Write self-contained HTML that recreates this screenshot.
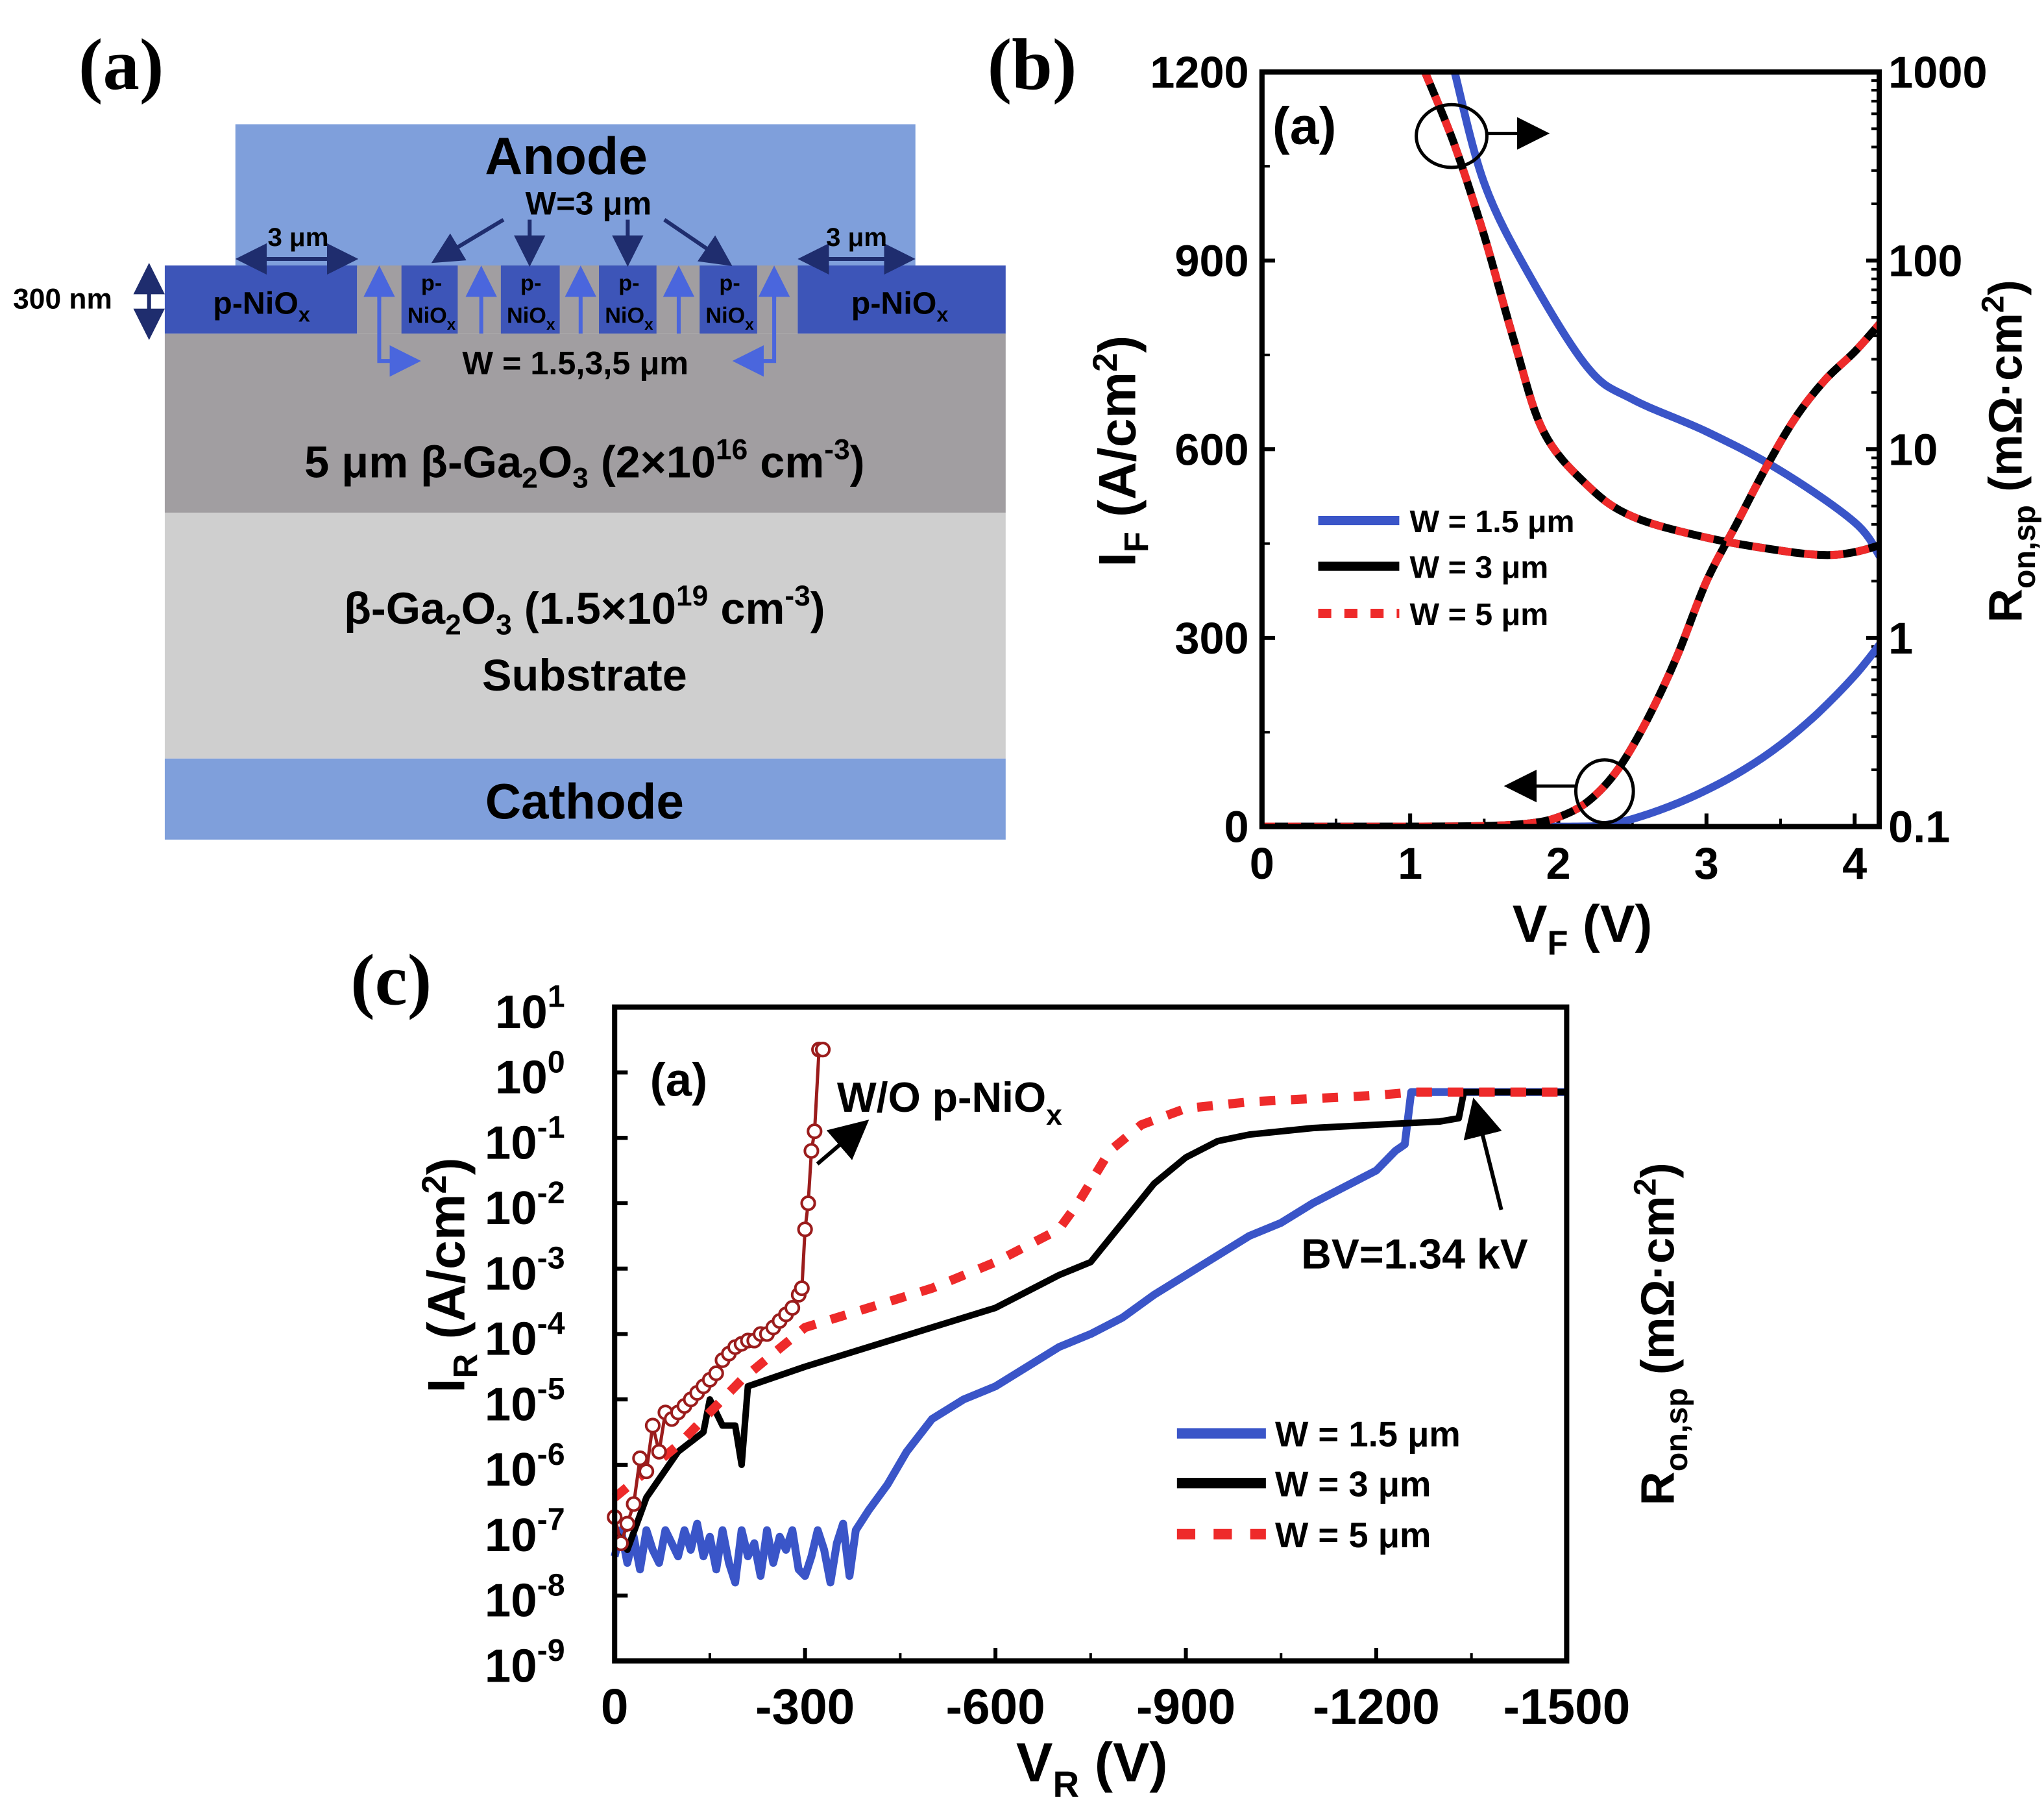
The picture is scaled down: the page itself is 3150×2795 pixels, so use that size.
<!DOCTYPE html>
<html><head><meta charset="utf-8"><style>
html,body{margin:0;padding:0;background:#fff}
svg{display:block;width:3150px;height:2795px}
text{font-family:"Liberation Sans",sans-serif;font-weight:bold}
</style></head><body>
<svg id="fig" viewBox="0 0 1563 1387" preserveAspectRatio="none" xmlns="http://www.w3.org/2000/svg">
<defs>
<marker id="ah" markerWidth="8" markerHeight="8" refX="6" refY="4" orient="auto"><path d="M0,0 L8,4 L0,8 z" fill="#1f2d6e"/></marker>
<marker id="ahb" markerWidth="8" markerHeight="8" refX="6" refY="4" orient="auto"><path d="M0,0 L8,4 L0,8 z" fill="#4a66dd"/></marker>
<marker id="ahk" markerWidth="10" markerHeight="10" refX="8" refY="5" orient="auto"><path d="M0,0 L10,5 L0,10 z" fill="#000"/></marker>
<clipPath id="cb"><rect x="965" y="55" width="472" height="577"/></clipPath>
</defs>
<g>
<text x="60" y="68" font-size="56" style="font-family:'Liberation Serif',serif">(a)</text>
<rect x="180" y="95" width="520" height="110" fill="#7f9fdb"/>
<rect x="126" y="255" width="643" height="137" fill="#a19ea1"/>
<rect x="273" y="203" width="337" height="52" fill="#a19ea1"/>
<rect x="126" y="392" width="643" height="188" fill="#cfcfcf"/>
<rect x="126" y="580" width="643" height="62" fill="#7f9fdb"/>
<rect x="126" y="203" width="147" height="52" fill="#3d55b8"/>
<rect x="610" y="203" width="159" height="52" fill="#3d55b8"/>
<rect x="307" y="203" width="43" height="52" fill="#3d55b8"/>
<rect x="383" y="203" width="45" height="52" fill="#3d55b8"/>
<rect x="458" y="203" width="44" height="52" fill="#3d55b8"/>
<rect x="535" y="203" width="44" height="52" fill="#3d55b8"/>
<text x="433" y="133" font-size="40" text-anchor="middle">Anode</text>
<text x="450" y="164" font-size="25" text-anchor="middle">W=3 μm</text>
<g stroke="#1f2d6e" stroke-width="3" marker-end="url(#ah)">
<line x1="385" y1="168" x2="335" y2="198"/><line x1="405" y1="168" x2="405" y2="198"/><line x1="480" y1="168" x2="480" y2="198"/><line x1="508" y1="168" x2="555" y2="200"/>
<line x1="228" y1="198" x2="268" y2="198"/><line x1="228" y1="198" x2="186" y2="198"/>
<line x1="655" y1="198" x2="694" y2="198"/><line x1="655" y1="198" x2="616" y2="198"/>
<line x1="114" y1="230" x2="114" y2="207"/><line x1="114" y1="230" x2="114" y2="254"/>
</g>
<text x="228" y="188" font-size="20" text-anchor="middle">3 μm</text>
<text x="655" y="188" font-size="20" text-anchor="middle">3 μm</text>
<text x="10" y="236" font-size="22">300 nm</text>
<text x="200" y="240" font-size="24" text-anchor="middle">p-NiO<tspan font-size="16" dy="6">x</tspan></text>
<text x="688" y="240" font-size="24" text-anchor="middle">p-NiO<tspan font-size="16" dy="6">x</tspan></text>
<g font-size="17" text-anchor="middle">
<text x="330" y="222">p-</text><text x="330" y="247">NiO<tspan font-size="12" dy="5">x</tspan></text>
<text x="406" y="222">p-</text><text x="406" y="247">NiO<tspan font-size="12" dy="5">x</tspan></text>
<text x="481" y="222">p-</text><text x="481" y="247">NiO<tspan font-size="12" dy="5">x</tspan></text>
<text x="558" y="222">p-</text><text x="558" y="247">NiO<tspan font-size="12" dy="5">x</tspan></text>
</g>
<g stroke="#4a66dd" stroke-width="3" fill="none">
<polyline points="290,206 290,276 316,276" marker-end="url(#ahb)"/>
<polyline points="592,206 592,276 566,276" marker-end="url(#ahb)"/>
<line x1="290" y1="230" x2="290" y2="209" marker-end="url(#ahb)"/>
<line x1="592" y1="230" x2="592" y2="209" marker-end="url(#ahb)"/>
<line x1="368" y1="255" x2="368" y2="209" marker-end="url(#ahb)"/>
<line x1="444" y1="255" x2="444" y2="209" marker-end="url(#ahb)"/>
<line x1="519" y1="255" x2="519" y2="209" marker-end="url(#ahb)"/>
</g>
<text x="440" y="286" font-size="25" text-anchor="middle">W = 1.5,3,5 μm</text>
<text x="447" y="365" font-size="34" text-anchor="middle">5 μm β-Ga<tspan font-size="22" dy="8">2</tspan><tspan dy="-8">O</tspan><tspan font-size="22" dy="8">3</tspan><tspan dy="-8"> (2×10</tspan><tspan font-size="22" dy="-14">16</tspan><tspan dy="14"> cm</tspan><tspan font-size="22" dy="-14">-3</tspan><tspan dy="14">)</tspan></text>
<text x="447" y="477" font-size="34" text-anchor="middle">β-Ga<tspan font-size="22" dy="8">2</tspan><tspan dy="-8">O</tspan><tspan font-size="22" dy="8">3</tspan><tspan dy="-8"> (1.5×10</tspan><tspan font-size="22" dy="-14">19</tspan><tspan dy="14"> cm</tspan><tspan font-size="22" dy="-14">-3</tspan><tspan dy="14">)</tspan></text>
<text x="447" y="528" font-size="34" text-anchor="middle">Substrate</text>
<text x="447" y="626" font-size="38" text-anchor="middle">Cathode</text>
</g>
<g id="pb">
<text x="755" y="68" font-size="56" style="font-family:'Liberation Serif',serif">(b)</text>
</g>
<g id="pc">
<text x="268" y="768" font-size="56" style="font-family:'Liberation Serif',serif">(c)</text>
</g>
</svg>
<script>
// ---- Panel b data ----
const bTicksX = [0,1,2,3,4];
const bTicksYL = [0,300,600,900,1200];
const bTicksYR = ["0.1","1","10","100","1000"];
const bIfV = [0,1,1.5,1.8,2,2.2,2.4,2.6,2.8,3,3.2,3.4,3.6,3.8,4,4.17];
const bIfBlack = [0,0,1,5,15,40,90,170,270,390,480,570,650,710,755,800];
const bIfBlueV = [0,1.5,2.1,2.3,2.5,2.75,3,3.25,3.5,3.75,4,4.17];
const bIfBlue = [0,0,0,2,12,32,58,90,130,180,240,290];
const bRV = [1.1,1.3,1.5,1.7,1.9,2.2,2.5,3,3.5,3.8,4,4.17];
const bRBlack = [1000,410,135,38,12.4,6.4,4.4,3.4,2.9,2.75,2.85,3.1];
const bRBlueV = [1.3,1.5,1.8,2.2,2.5,3,3.5,4,4.17];
const bRBlue = [1000,257,85,27,18.4,12.4,7.7,4.1,2.7];
// ---- Panel c data (|V_R| in volts, log10 of I_R) ----
const cTicksX = [0,-300,-600,-900,-1200,-1500];
const cTicksExp = [1,0,-1,-2,-3,-4,-5,-6,-7,-8,-9];
const cBlueV = [0,10,20,30,40,50,60,70,80,90,100,110,120,130,140,150,160,170,180,190,200,210,220,230,240,250,260,270,280,290,300,310,320,330,340,350,360,370,380,400,430,460,500,550,600,650,700,750,800,850,900,950,1000,1050,1100,1150,1200,1230,1245,1255,1265,1500];
const cBlueExp = [-7.4,-7.0,-7.5,-7.1,-7.6,-7.0,-7.3,-7.5,-7.0,-7.2,-7.4,-7.0,-7.3,-6.9,-7.4,-7.1,-7.6,-7.0,-7.5,-7.8,-7.0,-7.4,-7.2,-7.7,-7.0,-7.5,-7.1,-7.3,-7.0,-7.6,-7.7,-7.4,-7.0,-7.3,-7.8,-7.2,-6.9,-7.7,-7.0,-6.7,-6.3,-5.8,-5.3,-5.0,-4.8,-4.5,-4.2,-4.0,-3.75,-3.4,-3.1,-2.8,-2.5,-2.3,-2.0,-1.75,-1.5,-1.2,-1.1,-0.3,-0.3,-0.3];
const cBlackV = [0,20,50,100,140,150,170,190,200,205,210,300,400,500,600,700,750,800,850,900,950,1000,1100,1200,1300,1330,1338,1500];
const cBlackExp = [-7.0,-7.3,-6.5,-5.8,-5.5,-5.0,-5.4,-5.4,-6.0,-5.4,-4.8,-4.5,-4.2,-3.9,-3.6,-3.1,-2.9,-2.3,-1.7,-1.3,-1.05,-0.95,-0.85,-0.8,-0.75,-0.7,-0.3,-0.3];
const cRedV = [0,50,100,200,300,400,500,600,700,730,780,830,900,1000,1200,1260,1500];
const cRedExp = [-6.5,-6.1,-5.7,-4.7,-3.9,-3.6,-3.3,-2.9,-2.4,-2.0,-1.2,-0.8,-0.55,-0.45,-0.35,-0.3,-0.3];
const cNioV = [0,10,20,30,40,50,60,70,80,90,100,110,120,130,140,150,160,170,180,190,200,210,220,230,240,250,260,270,280,290,295,300,305,310,315,322,328];
const cNioExp = [-6.8,-7.2,-6.9,-6.6,-5.9,-6.1,-5.4,-5.8,-5.2,-5.3,-5.2,-5.1,-5.0,-4.9,-4.8,-4.7,-4.6,-4.4,-4.3,-4.2,-4.15,-4.1,-4.1,-4.0,-4.0,-3.9,-3.8,-3.7,-3.6,-3.4,-3.3,-2.4,-2.0,-1.2,-0.9,0.35,0.35];

const NS = "http://www.w3.org/2000/svg";
function mk(parent, tag, attrs){const e=document.createElementNS(NS,tag);for(const k in attrs)e.setAttribute(k,attrs[k]);parent.appendChild(e);return e;}
function txt(parent,x,y,s,size,anchor){const t=mk(parent,'text',{x:x,y:y,'font-size':size,'text-anchor':anchor||'middle'});t.textContent=s;return t;}
function smooth(pts){let d='M'+pts[0][0]+','+pts[0][1];for(let i=1;i<pts.length;i++){const p0=pts[Math.max(i-2,0)],p1=pts[i-1],p2=pts[i],p3=pts[Math.min(i+1,pts.length-1)];d+=' C'+(p1[0]+(p2[0]-p0[0])/6).toFixed(1)+','+(p1[1]+(p2[1]-p0[1])/6).toFixed(1)+' '+(p2[0]-(p3[0]-p1[0])/6).toFixed(1)+','+(p2[1]-(p3[1]-p1[1])/6).toFixed(1)+' '+p2[0].toFixed(1)+','+p2[1].toFixed(1);}return d;}

// ---- Panel b ----
const pb = document.getElementById('pb');
const bx0=965,bx1=1437,by0=55,by1=632;
const bX = v => bx0 + v*113.3;
const bYL = v => by1 - v*(by1-by0)/1200;
const bYR = v => by1 - (Math.log10(v)+1)*(by1-by0)/4;
for (let i=0;i<bTicksX.length;i++){
  const x=bX(bTicksX[i]);
  const lab=txt(pb,x,672,bTicksX[i],34);
  
  
  mk(pb,'line',{x1:x,y1:by1,x2:x,y2:by1-10,stroke:'#000','stroke-width':3});
  if(bTicksX[i]<4){const xm=bX(bTicksX[i]+0.5);mk(pb,'line',{x1:xm,y1:by1,x2:xm,y2:by1-6,stroke:'#000','stroke-width':2});}
}
for (let i=0;i<bTicksYL.length;i++){
  const y=bYL(bTicksYL[i]);
  const lab=txt(pb,955,y+12,bTicksYL[i],34,'end');
  
  
  mk(pb,'line',{x1:bx0,y1:y,x2:bx0+10,y2:y,stroke:'#000','stroke-width':3});
  if(i<bTicksYL.length-1){const ym=bYL(bTicksYL[i]+150);mk(pb,'line',{x1:bx0,y1:ym,x2:bx0+6,y2:ym,stroke:'#000','stroke-width':2});}
}
for (let i=0;i<bTicksYR.length;i++){
  const y=bYR(parseFloat(bTicksYR[i]));
  const lab=txt(pb,1444,y+12,bTicksYR[i],34,'start');
  
  
  if(i<bTicksYR.length-1){for(let m=2;m<10;m++){const ym=bYR(parseFloat(bTicksYR[i])*m);mk(pb,'line',{x1:bx1,y1:ym,x2:bx1-6,y2:ym,stroke:'#000','stroke-width':2});}}
  mk(pb,'line',{x1:bx1,y1:y,x2:bx1-10,y2:y,stroke:'#000','stroke-width':3});
}
function ptsB(xs,ys,fy){return xs.map((v,i)=>[bX(v),Math.max(by0-20,fy(ys[i]))]);}
const gB = mk(pb,'g',{'clip-path':'url(#cb)'});
let p;
p=mk(gB,'path',{d:smooth(ptsB(bIfBlueV,bIfBlue,bYL)),stroke:'#3a55c8','stroke-width':6,fill:'none'});


p=mk(gB,'path',{d:smooth(ptsB(bRBlueV,bRBlue,bYR)),stroke:'#3a55c8','stroke-width':6,fill:'none'});


p=mk(gB,'path',{d:smooth(ptsB(bIfV,bIfBlack,bYL)),stroke:'#000','stroke-width':6,fill:'none'});


p=mk(gB,'path',{d:smooth(ptsB(bRV,bRBlack,bYR)),stroke:'#000','stroke-width':6,fill:'none'});


p=mk(gB,'path',{d:smooth(ptsB(bIfV,bIfBlack,bYL)),stroke:'#ee2a2a','stroke-width':6,fill:'none','stroke-dasharray':'10 10'});


p=mk(gB,'path',{d:smooth(ptsB(bRV,bRBlack,bYR)),stroke:'#ee2a2a','stroke-width':6,fill:'none','stroke-dasharray':'10 10'});


mk(pb,'rect',{x:bx0,y:by0,width:bx1-bx0,height:by1-by0,fill:'none',stroke:'#000','stroke-width':4});
txt(pb,973,110,'(a)',40,'start');
mk(pb,'ellipse',{cx:1110,cy:104,rx:27,ry:24,fill:'none',stroke:'#000','stroke-width':2.5});
mk(pb,'line',{x1:1137,y1:102,x2:1180,y2:102,stroke:'#000','stroke-width':2.5,'marker-end':'url(#ahk)'});
mk(pb,'ellipse',{cx:1227,cy:605,rx:22,ry:24,fill:'none',stroke:'#000','stroke-width':2.5});
mk(pb,'line',{x1:1205,y1:601,x2:1155,y2:601,stroke:'#000','stroke-width':2.5,'marker-end':'url(#ahk)'});
const legB=[['#3a55c8','','W = 1.5 μm',398],['#000','','W = 3 μm',433],['#ee2a2a','10 10','W = 5 μm',469]];
legB.forEach(l=>{const ln=mk(pb,'line',{x1:1008,y1:l[3],x2:1070,y2:l[3],stroke:l[0],'stroke-width':7,'stroke-dasharray':l[1]});


const lt=txt(pb,1078,l[3]+9,l[2],24,'start');

});
let t=mk(pb,'text',{x:1210,y:720,'font-size':40,'text-anchor':'middle'});t.innerHTML='V<tspan font-size="26" dy="10">F</tspan><tspan dy="-10"> (V)</tspan>';


t=mk(pb,'text',{x:0,y:0,'font-size':40,'text-anchor':'middle',transform:'translate(868,345) rotate(-90)'});t.innerHTML='I<tspan font-size="26" dy="10">F</tspan><tspan dy="-10"> (A/cm</tspan><tspan font-size="26" dy="-14">2</tspan><tspan dy="14">)</tspan>';


t=mk(pb,'text',{x:0,y:0,'font-size':36,'text-anchor':'middle',transform:'translate(1546,345) rotate(-90)'});t.innerHTML='R<tspan font-size="24" dy="10">on,sp</tspan><tspan dy="-10"> (mΩ·cm</tspan><tspan font-size="24" dy="-14">2</tspan><tspan dy="14">)</tspan>';



// ---- Panel c ----
const pc=document.getElementById('pc');
const cx0=470,cx1=1198,cy0=770,cy1=1270;
const cX = v => cx0 + Math.abs(v)*(cx1-cx0)/1500;
const cY = e => cy0 + (1-e)*(cy1-cy0)/10;
cTicksX.forEach(v=>{const x=cX(v);const tt=txt(pc,x,1318,v===0?'0':String(v),38);


mk(pc,'line',{x1:x,y1:cy1,x2:x,y2:cy1-10,stroke:'#000','stroke-width':3});
if(v>-1500){const xm=cX(v-150);mk(pc,'line',{x1:xm,y1:cy1,x2:xm,y2:cy1-6,stroke:'#000','stroke-width':2});}});
cTicksExp.forEach(e=>{const y=cY(e);const tt=mk(pc,'text',{x:432,y:y+16,'font-size':36,'text-anchor':'end'});tt.innerHTML='10<tspan font-size="24" dy="-16">'+e+'</tspan>';


mk(pc,'line',{x1:cx0,y1:y,x2:cx0+10,y2:y,stroke:'#000','stroke-width':3});});
function pathC(xs,es){return xs.map((v,i)=>(i?'L':'M')+cX(v).toFixed(1)+','+cY(es[i]).toFixed(1)).join(' ');}
p=mk(pc,'path',{d:pathC(cBlueV,cBlueExp),stroke:'#3a55c8','stroke-width':6,fill:'none','stroke-linejoin':'round'});


p=mk(pc,'path',{d:pathC(cBlackV,cBlackExp),stroke:'#000','stroke-width':5,fill:'none','stroke-linejoin':'round'});


p=mk(pc,'path',{d:pathC(cRedV,cRedExp),stroke:'#ee2a2a','stroke-width':7,fill:'none','stroke-dasharray':'12 12'});


p=mk(pc,'path',{d:pathC(cNioV,cNioExp),stroke:'#9b1c1c','stroke-width':2.5,fill:'none'});


cNioV.forEach((v,i)=>{const c=mk(pc,'circle',{cx:cX(v),cy:cY(cNioExp[i]),r:5,fill:'#fff',stroke:'#9b1c1c','stroke-width':2});

});
mk(pc,'rect',{x:cx0,y:cy0,width:cx1-cx0,height:cy1-cy0,fill:'none',stroke:'#000','stroke-width':4});
txt(pc,497,838,'(a)',36,'start');
t=mk(pc,'text',{x:640,y:850,'font-size':32,'text-anchor':'start'});t.innerHTML='W/O p-NiO<tspan font-size="22" dy="10">x</tspan>';


mk(pc,'line',{x1:625,y1:890,x2:660,y2:860,stroke:'#000','stroke-width':3,'marker-end':'url(#ahk)'});
t=txt(pc,995,970,'BV=1.34 kV',32,'start');


mk(pc,'line',{x1:1148,y1:925,x2:1128,y2:845,stroke:'#000','stroke-width':3,'marker-end':'url(#ahk)'});
const legC=[['#3a55c8','','W = 1.5 μm',1096],['#000','','W = 3 μm',1134],['#ee2a2a','14 14','W = 5 μm',1173]];
legC.forEach(l=>{const ln=mk(pc,'line',{x1:900,y1:l[3],x2:968,y2:l[3],stroke:l[0],'stroke-width':8,'stroke-dasharray':l[1]});


const tt=txt(pc,975,l[3]+10,l[2],27,'start');

});
t=mk(pc,'text',{x:835,y:1362,'font-size':42,'text-anchor':'middle'});t.innerHTML='V<tspan font-size="28" dy="12">R</tspan><tspan dy="-12"> (V)</tspan>';


t=mk(pc,'text',{x:0,y:0,'font-size':40,'text-anchor':'middle',transform:'translate(355,975) rotate(-90)'});t.innerHTML='I<tspan font-size="26" dy="10">R</tspan><tspan dy="-10"> (A/cm</tspan><tspan font-size="26" dy="-14">2</tspan><tspan dy="14">)</tspan>';


t=mk(pc,'text',{x:0,y:0,'font-size':36,'text-anchor':'middle',transform:'translate(1280,1020) rotate(-90)'});t.innerHTML='R<tspan font-size="24" dy="10">on,sp</tspan><tspan dy="-10"> (mΩ·cm</tspan><tspan font-size="24" dy="-14">2</tspan><tspan dy="14">)</tspan>';


</script>
</body></html>
